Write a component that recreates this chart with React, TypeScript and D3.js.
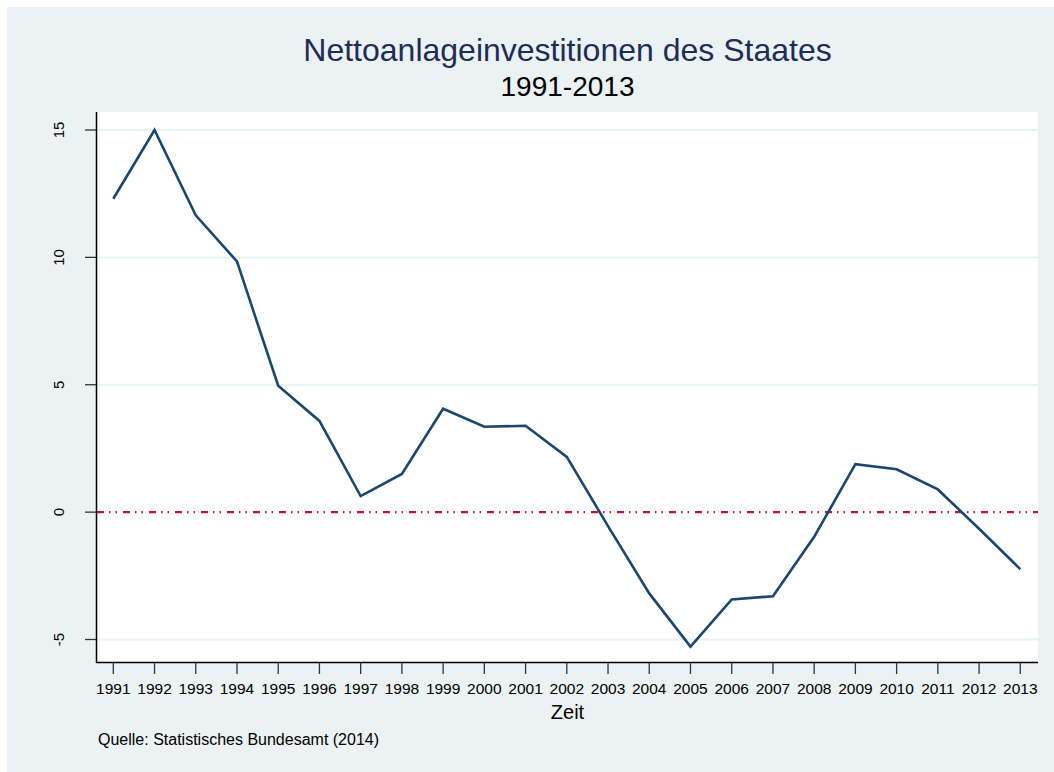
import React from 'react';
import * as d3 from 'd3';

const years = [
  1991, 1992, 1993, 1994, 1995, 1996, 1997, 1998, 1999, 2000, 2001, 2002,
  2003, 2004, 2005, 2006, 2007, 2008, 2009, 2010, 2011, 2012, 2013,
];
const values = [
  12.3, 15.0, 11.65, 9.84, 4.96, 3.58, 0.63, 1.5, 4.06, 3.35, 3.39, 2.17,
  -0.55, -3.19, -5.28, -3.43, -3.3, -0.97, 1.88, 1.68, 0.89, -0.65, -2.24,
];
const yTicks = [-5, 0, 5, 10, 15];
const gridTicks = [-5, 5, 10, 15];

const W = 1054;
const H = 772;
const plot = { left: 97, right: 1038, top: 112, bottom: 662 };

const App = () => {
  const x = d3.scaleLinear().domain([1991, 2013]).range([113.3, 1020.3]);
  const y = d3.scaleLinear().domain([-5, 15]).range([639.5, 130]);

  const line = d3
    .line<number>()
    .x((_, i) => x(years[i]))
    .y((d) => y(d));

  const cx = (plot.left + plot.right) / 2;
  const font = "'Liberation Sans', Arial, sans-serif";

  return (
    <div style={{ position: 'fixed', left: 0, top: 0, width: W, height: H }}>
      <svg width={W} height={H} style={{ display: 'block' }} fontFamily={font}>
        <rect x={0} y={0} width={W} height={H} fill="#ffffff" />
        <rect x={7} y={7} width={W - 7} height={H - 7} fill="#eaf2f3" />
        <rect
          x={plot.left}
          y={plot.top}
          width={plot.right - plot.left}
          height={plot.bottom - plot.top}
          fill="#ffffff"
        />

        {/* Gitterlinien */}
        {gridTicks.map((t) => (
          <line
            key={t}
            x1={plot.left}
            x2={plot.right}
            y1={y(t)}
            y2={y(t)}
            stroke="#eaf2f3"
            strokeWidth={2}
          />
        ))}

        {/* Nulllinie */}
        <line
          x1={plot.left}
          x2={plot.right}
          y1={y(0)}
          y2={y(0)}
          stroke="#c8103a"
          strokeWidth={2.2}
          strokeDasharray="7 5 1.5 5 1.5 6"
        />

        <path
          d={line(values) || ''}
          fill="none"
          stroke="#1a476f"
          strokeWidth={2.6}
          strokeLinejoin="miter"
        />

        {/* Achsen */}
        <line x1={96.5} x2={96.5} y1={plot.top} y2={plot.bottom + 1} stroke="#000" strokeWidth={1.5} />
        <line x1={96} x2={plot.right} y1={662.5} y2={662.5} stroke="#000" strokeWidth={1.5} />

        {yTicks.map((t) => (
          <g key={t}>
            <line x1={85} x2={96} y1={y(t)} y2={y(t)} stroke="#333" strokeWidth={1.3} />
            <text
              transform={`translate(64, ${y(t)}) rotate(-90)`}
              textAnchor="middle"
              fontSize={15}
              fill="#000"
            >
              {t}
            </text>
          </g>
        ))}

        {years.map((yr) => (
          <g key={yr}>
            <line x1={x(yr)} x2={x(yr)} y1={663} y2={674} stroke="#333" strokeWidth={1.3} />
            <text x={x(yr)} y={694} textAnchor="middle" fontSize={15.5} fill="#000">
              {yr}
            </text>
          </g>
        ))}

        <text x={cx} y={61} textAnchor="middle" fontSize={32} fill="#1f2d55">
          Nettoanlageinvestitionen des Staates
        </text>
        <text x={cx} y={96} textAnchor="middle" fontSize={28} fill="#000">
          1991-2013
        </text>
        <text x={cx} y={719} textAnchor="middle" fontSize={20} fill="#000">
          Zeit
        </text>
        <text x={98} y={745} fontSize={16} fill="#000">
          Quelle: Statistisches Bundesamt (2014)
        </text>
      </svg>
    </div>
  );
};

export default App;
